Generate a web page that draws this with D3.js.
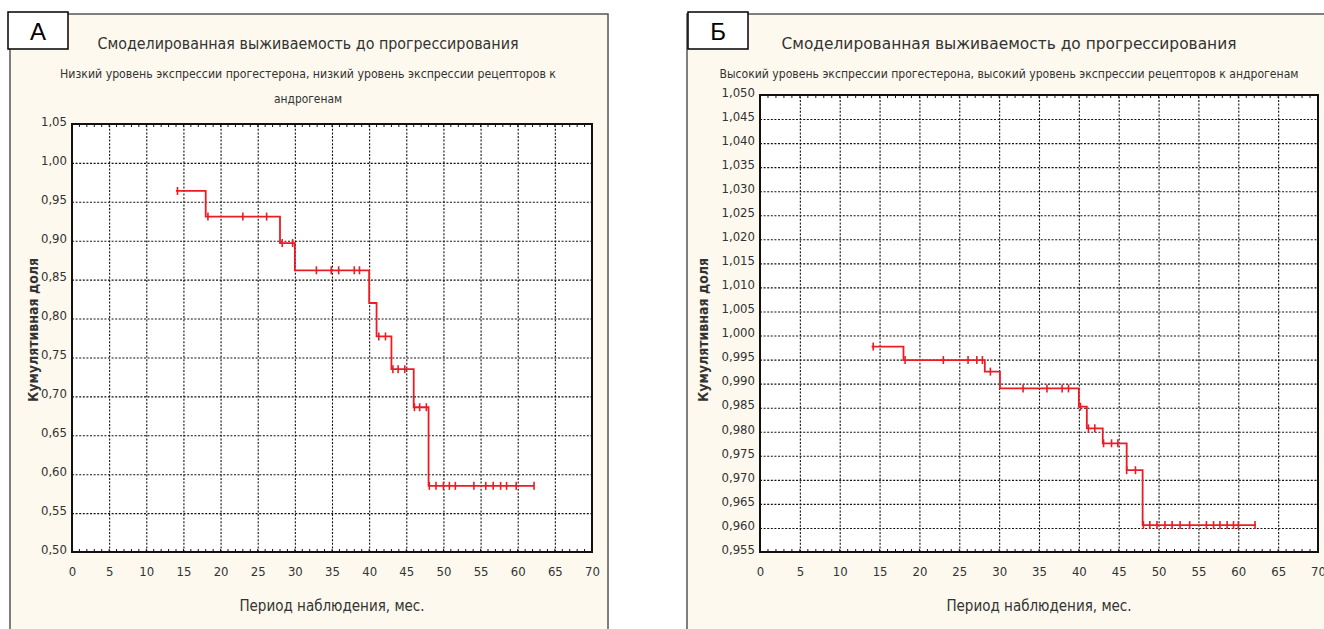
<!DOCTYPE html>
<html lang="ru">
<head>
<meta charset="utf-8">
<script src="https://d3js.org/d3.v7.min.js"></script>
<style>
  body { margin: 0; background: #fff; }
  svg { display: block; }
  text { font-family: "Liberation Sans Narrow", "DejaVu Sans Condensed", "Liberation Sans", Arial, sans-serif; fill: #333; }
  .tick text { font-size: 13px; }
  .grid line { stroke: #111; stroke-dasharray: 2,1.6; stroke-width: 1.1; }
  .grid path { display: none; }
  .frame { fill: none; stroke: #111; stroke-width: 2; }
  .km { fill: none; stroke: #ec1c24; stroke-width: 1.8; }
  .cens { stroke: #ec1c24; stroke-width: 1.6; }
  .tag { font-family: "Liberation Sans", Arial, sans-serif; font-size: 24px; fill: #000; }
</style>
</head>
<body>
<script>
// ---- data ----
var xTicks = [0, 5, 10, 15, 20, 25, 30, 35, 40, 45, 50, 55, 60, 65, 70];

// panel A: low progesterone / low androgen receptors
var timesA = [14, 18, 28, 30, 40, 41, 43, 46, 48];
var survA = [0.964, 0.931, 0.897, 0.862, 0.820, 0.777, 0.735, 0.686, 0.585];
var endA = 62.2;
var censA = [14.2, 18.3, 23.0, 26.2, 28.3, 29.7, 32.9, 34.9, 35.9, 38.0, 38.7, 41.3, 42.2,
  43.2, 43.9, 44.8, 46.1, 46.8, 47.7, 48.1, 49.0, 50.0, 50.8, 51.6, 54.1, 55.7, 56.7,
  57.7, 58.5, 59.8, 62.2];
var yTicksA = [0.50, 0.55, 0.60, 0.65, 0.70, 0.75, 0.80, 0.85, 0.90, 0.95, 1.00, 1.05];

// panel B: high progesterone / high androgen receptors
var timesB = [14, 18, 28.2, 30.1, 40, 41, 43, 46, 48];
var survB = [0.9977, 0.9949, 0.9925, 0.9890, 0.9852, 0.9807, 0.9776, 0.9720, 0.9606];
var endB = 62.2;
var censB = [14.2, 18.2, 23.0, 26.1, 27.2, 27.9, 28.9, 33.0, 36.0, 37.9, 38.7, 40.2, 41.2,
  42.0, 43.1, 44.1, 44.9, 46.0, 47.1, 48.1, 48.9, 49.8, 50.8, 51.7, 52.7, 53.9, 56.0,
  56.9, 57.7, 58.6, 59.4, 60.0, 62.1];
var yTicksB = [0.955, 0.960, 0.965, 0.970, 0.975, 0.980, 0.985, 0.990, 0.995, 1.000,
  1.005, 1.010, 1.015, 1.020, 1.025, 1.030, 1.035, 1.040, 1.045, 1.050];

var title = "Смоделированная выживаемость до прогрессирования";
var xTitle = "Период наблюдения, мес.";
var yTitle = "Кумулятивная доля";

var svg = d3.select("body").append("svg").attr("width", 1324).attr("height", 629);

function drawPanel(o) {
  var g = svg.append("g");

  // cream background card
  g.append("rect")
    .attr("x", o.card[0]).attr("y", o.card[1])
    .attr("width", o.card[2]).attr("height", o.card[3])
    .attr("fill", "#fdf9ee").attr("stroke", "#555").attr("stroke-width", 1.5);

  var x = d3.scaleLinear().domain([0, 70]).range([o.left, o.right]);
  var y = d3.scaleLinear().domain(o.yDomain).range([o.bottom, o.top]);

  g.append("rect")
    .attr("x", o.left).attr("y", o.top)
    .attr("width", o.right - o.left).attr("height", o.bottom - o.top)
    .attr("fill", "#fff");

  // grid
  g.append("g").attr("class", "grid")
    .attr("transform", "translate(0," + o.bottom + ")")
    .call(d3.axisBottom(x).tickValues(xTicks.slice(1, -1)).tickSize(-(o.bottom - o.top)).tickFormat(""));
  g.append("g").attr("class", "grid")
    .attr("transform", "translate(" + o.left + ",0)")
    .call(d3.axisLeft(y).tickValues(o.yTicks.slice(1, -1)).tickSize(-(o.right - o.left)).tickFormat(""));

  // minor inward ticks along the frame
  var minor = d3.range(0, 71, 1);
  g.selectAll(null).data(minor).enter().append("line")
    .attr("x1", function (d) { return x(d); }).attr("x2", function (d) { return x(d); })
    .attr("y1", o.bottom).attr("y2", o.bottom - 3)
    .attr("stroke", "#111");
  g.selectAll(null).data(minor).enter().append("line")
    .attr("x1", function (d) { return x(d); }).attr("x2", function (d) { return x(d); })
    .attr("y1", o.top).attr("y2", o.top + 3)
    .attr("stroke", "#111");

  // axes labels
  var fmt = function (d) { return d3.format(o.fmt)(d).replace(".", ","); };
  var ax = g.append("g")
    .attr("transform", "translate(0," + o.bottom + ")")
    .call(d3.axisBottom(x).tickValues(xTicks).tickSize(0).tickPadding(15));
  ax.select(".domain").remove();
  var ay = g.append("g")
    .attr("transform", "translate(" + o.left + ",0)")
    .call(d3.axisLeft(y).tickValues(o.yTicks).tickSize(0).tickPadding(5).tickFormat(fmt));
  ay.select(".domain").remove();
  ay.selectAll("text").attr("dy", "0.1em");

  // KM step line
  var pts = [];
  o.times.forEach(function (t, i) {
    if (i > 0) pts.push([t, o.surv[i - 1]]);
    pts.push([t, o.surv[i]]);
  });
  pts.push([o.end, o.surv[o.surv.length - 1]]);
  g.append("path").attr("class", "km")
    .attr("d", d3.line().x(function (d) { return x(d[0]); }).y(function (d) { return y(d[1]); })(pts));

  // censor marks
  var level = function (t) {
    var s = o.surv[0];
    o.times.forEach(function (tt, i) { if (t >= tt) s = o.surv[i]; });
    return s;
  };
  g.selectAll(null).data(o.cens).enter().append("line").attr("class", "cens")
    .attr("x1", function (d) { return x(d); }).attr("x2", function (d) { return x(d); })
    .attr("y1", function (d) { return y(level(d)) - 4; })
    .attr("y2", function (d) { return y(level(d)) + 4; });

  g.append("rect").attr("class", "frame")
    .attr("x", o.left).attr("y", o.top)
    .attr("width", o.right - o.left).attr("height", o.bottom - o.top);

  // titles
  g.append("text").attr("x", o.titleX).attr("y", 49)
    .attr("text-anchor", "middle").style("font-size", "15px")
    .attr("textLength", o.titleW).attr("lengthAdjust", "spacingAndGlyphs")
    .text(title);
  o.sub.forEach(function (s, i) {
    g.append("text").attr("x", o.titleX).attr("y", 78 + i * 25)
      .attr("text-anchor", "middle").style("font-size", "13px")
      .attr("textLength", o.subW[i]).attr("lengthAdjust", "spacingAndGlyphs")
      .text(s);
  });

  g.append("text").attr("x", (o.left + o.right) / 2).attr("y", 611)
    .attr("text-anchor", "middle").style("font-size", "15px")
    .text(xTitle);
  g.append("text")
    .attr("transform", "translate(" + o.yTitleX + ",330) rotate(-90)")
    .attr("text-anchor", "middle").style("font-size", "14px").style("font-weight", "bold")
    .style("fill", "#333")
    .text(yTitle);

  // panel tag box
  g.append("rect").attr("x", o.tag[0]).attr("y", 12).attr("width", 60).attr("height", 37)
    .attr("fill", "#fff").attr("stroke", "#000").attr("stroke-width", 1.5);
  g.append("text").attr("class", "tag").attr("x", o.tag[0] + 30).attr("y", 40)
    .attr("text-anchor", "middle").text(o.tag[1]);
}

drawPanel({
  card: [10, 14, 598, 640],
  left: 72, right: 592, top: 124, bottom: 552,
  yDomain: [0.50, 1.05], yTicks: yTicksA, fmt: ".2f",
  times: timesA, surv: survA, end: endA, cens: censA,
  titleX: 308, titleW: 421,
  sub: ["Низкий уровень экспрессии прогестерона, низкий уровень экспрессии рецепторов к", "андрогенам"],
  subW: [496, 68],
  yTitleX: 38,
  tag: [8, "А"]
});

drawPanel({
  card: [687, 14, 660, 640],
  left: 760, right: 1318, top: 95, bottom: 552,
  yDomain: [0.955, 1.050], yTicks: yTicksB, fmt: ".3f",
  times: timesB, surv: survB, end: endB, cens: censB,
  titleX: 1009, titleW: 455,
  sub: ["Высокий уровень экспрессии прогестерона, высокий уровень экспрессии рецепторов к андрогенам"],
  subW: [579],
  yTitleX: 708,
  tag: [688, "Б"]
});
</script>
</body>
</html>
